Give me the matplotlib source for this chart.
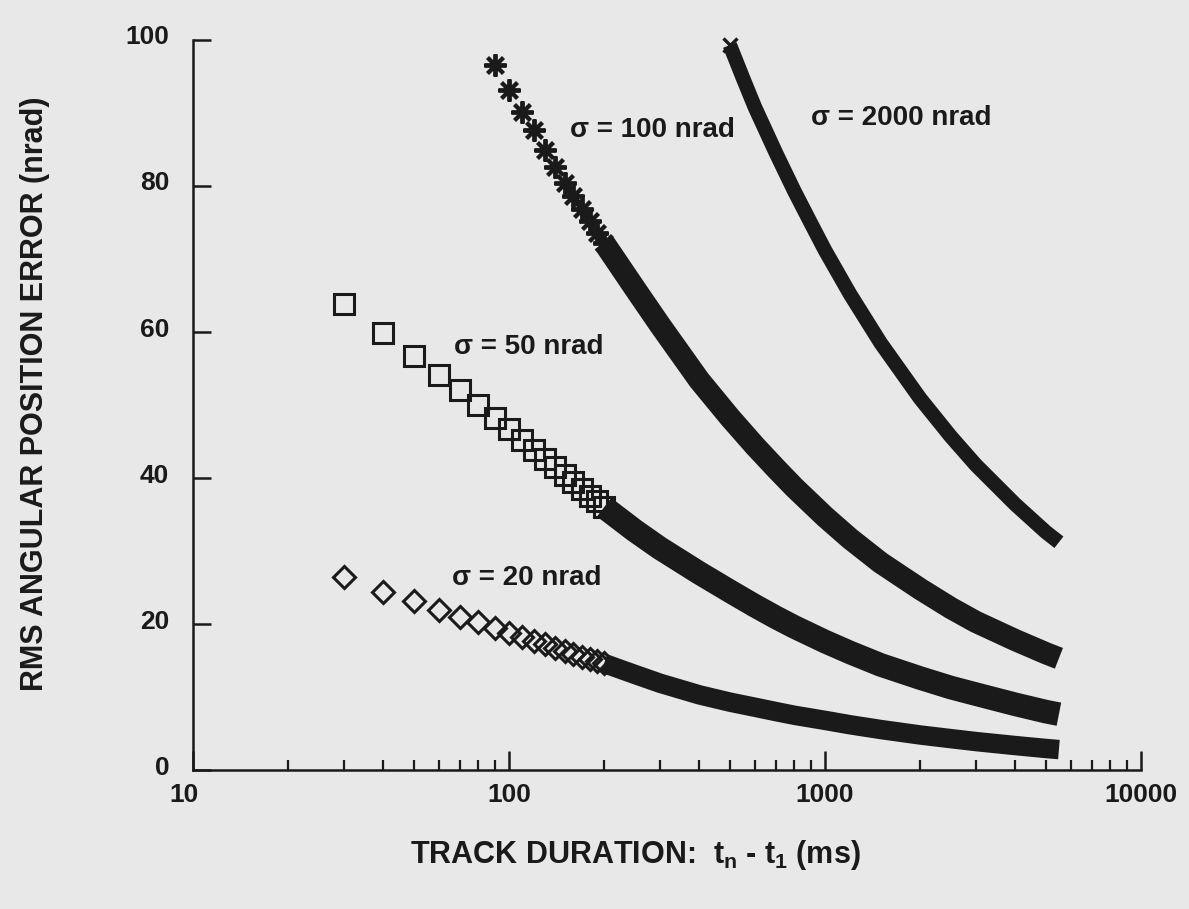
import numpy as np
import matplotlib
matplotlib.use("Agg")
import matplotlib.pyplot as plt
import matplotlib.transforms as mtransforms

# ── data (track duration in ms, rms error in nrad) ────
t_s20 = [30, 40, 50, 60, 70, 80, 90, 100, 110, 120, 130, 140, 150, 160, 170,
         180, 190, 200, 250, 300, 400, 500, 600, 700, 800, 1000, 1200, 1500,
         2000, 2500, 3000, 4000, 5000, 5500]
err_s20 = [26.4, 24.4, 23.2, 21.9, 21.0, 20.3, 19.5, 18.8, 18.2, 17.7, 17.2,
           16.7, 16.3, 15.9, 15.5, 15.2, 14.9, 14.6, 13.1, 11.9, 10.3, 9.3,
           8.6, 8.0, 7.5, 6.8, 6.2, 5.55, 4.8, 4.3, 3.9, 3.35, 2.95, 2.8]

t_s50 = [30, 40, 50, 60, 70, 80, 90, 100, 110, 120, 130, 140, 150, 160, 170,
         180, 190, 200, 250, 300, 400, 500, 600, 700, 800, 1000, 1200, 1500,
         2000, 2500, 3000, 4000, 5000, 5500]
err_s50 = [63.8, 59.9, 56.7, 54.1, 52.1, 50.0, 48.2, 46.7, 45.2, 43.9, 42.6,
           41.5, 40.4, 39.4, 38.5, 37.6, 36.8, 36.0, 32.8, 30.4, 27.0, 24.5,
           22.5, 20.9, 19.6, 17.6, 16.1, 14.4, 12.6, 11.3, 10.4, 9.0, 8.0, 7.65]

t_s100 = [90, 100, 110, 120, 130, 140, 150, 160, 170, 180, 190, 200, 250, 300,
          400, 500, 600, 700, 800, 1000, 1200, 1500, 2000, 2500, 3000, 4000,
          5000, 5500]
err_s100 = [96.6, 93.2, 90.1, 87.7, 84.9, 82.6, 80.4, 78.6, 76.8, 75.2, 73.6,
            72.2, 66.0, 61.0, 53.4, 48.3, 44.4, 41.3, 38.7, 34.7, 31.7, 28.4,
            24.8, 22.2, 20.3, 17.8, 16.0, 15.3]

t_s2000 = [500, 550, 600, 700, 800, 900, 1000, 1200, 1500, 2000, 2500, 3000,
           4000, 5000, 5500]
err_s2000 = [99.3, 94.8, 90.8, 84.5, 79.3, 75.0, 71.2, 65.2, 58.5, 50.9, 45.7,
             41.8, 36.4, 32.6, 31.2]

labels = ["\u03c3 = 20 nrad", "\u03c3 = 50 nrad", "\u03c3 = 100 nrad",
          "\u03c3 = 2000 nrad"]
label_pos = [(66, 26.3), (67, 57.9), (156, 87.7), (905, 89.3)]

BG = "#e8e8e8"
INK = "#1a1a1a"

plt.rcParams["font.family"] = ["Liberation Sans", "DejaVu Sans"]
plt.rcParams["font.weight"] = "bold"
plt.rcParams["mathtext.fontset"] = "custom"
plt.rcParams["mathtext.rm"] = "Liberation Sans:bold"
plt.rcParams["mathtext.it"] = "Liberation Sans:bold"
plt.rcParams["mathtext.bf"] = "Liberation Sans:bold"

fig = plt.figure(figsize=(11.89, 9.09), dpi=100, facecolor=BG)
ax = fig.add_axes([0.1623, 0.1529, 0.7973, 0.8031])
ax.set_facecolor(BG)


def draw_series(t, err, marker, ms, mew, band_lw, band_from):
    t = np.asarray(t, float)
    err = np.asarray(err, float)
    # past band_from the markers overlap into one solid band
    dense = t >= band_from
    ax.plot(t[dense], err[dense], "-", color=INK, lw=band_lw,
            solid_capstyle="butt", solid_joinstyle="round", clip_on=False)
    sparse = t <= band_from
    ax.plot(t[sparse], err[sparse], ls="none", marker=marker, ms=ms, mew=mew,
            mfc="none", mec=INK, clip_on=False)


draw_series(t_s20, err_s20, "D", 11, 2.2, 14, 200)
draw_series(t_s50, err_s50, "s", 14, 2.2, 17, 200)
draw_series(t_s100, err_s100, (8, 2, 0), 16, 2.8, 16, 200)
draw_series(t_s2000, err_s2000, "x", 10, 2.4, 10.5, 500)

for txt, (x, y) in zip(labels, label_pos):
    ax.text(x, y, txt, fontsize=20, fontweight="bold", color=INK,
            ha="left", va="center")

ax.set_xscale("log")
ax.set_xlim(10, 10000)
ax.set_ylim(0, 100)
ax.set_xticks([10, 100, 1000, 10000])
ax.set_xticklabels(["10", "100", "1000", "10000"])
ax.set_yticks([0, 20, 40, 60, 80, 100])
ax.set_yticklabels(["0", "20", "40", "60", "80", "100"])

for side in ("top", "right"):
    ax.spines[side].set_visible(False)
for side in ("left", "bottom"):
    ax.spines[side].set_linewidth(1.8)
    ax.spines[side].set_color(INK)

ax.tick_params(axis="y", direction="in", length=13, width=1.8, pad=17,
               labelsize=19, colors=INK)
ax.tick_params(axis="x", which="major", direction="in", length=14, width=1.8,
               pad=9, labelsize=19, colors=INK)
ax.tick_params(axis="x", which="minor", direction="in", length=7.5, width=1.6,
               colors=INK)

# y tick labels sit a little above their ticks in the original
lift = mtransforms.ScaledTranslation(0, 5 / 100, fig.dpi_scale_trans)
for lab in ax.get_yticklabels():
    lab.set_transform(lab.get_transform() + lift)
# "10" is set slightly left of the axis corner
shift = mtransforms.ScaledTranslation(-9 / 100, 0, fig.dpi_scale_trans)
first = ax.get_xticklabels()[0]
first.set_transform(first.get_transform() + shift)

fig.text(35 / 1189, 1 - 394 / 909, "RMS ANGULAR POSITION ERROR (nrad)",
         rotation=90, fontsize=22, fontweight="bold", color=INK,
         ha="center", va="center")
fig.text(635 / 1189, 1 - 855 / 909, r"TRACK DURATION:  $t_n$ - $t_1$ (ms)",
         fontsize=22, fontweight="bold", color=INK, ha="center", va="center")

fig.savefig("out.png", dpi=100, facecolor=BG)
